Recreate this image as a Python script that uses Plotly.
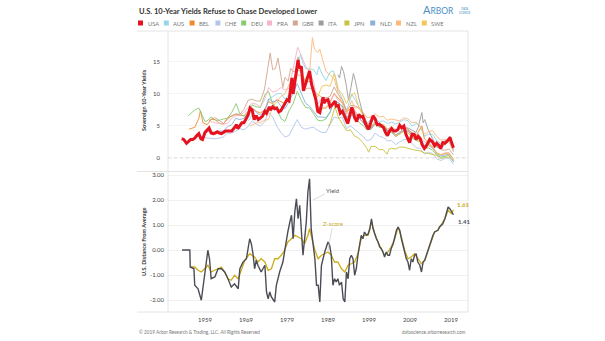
import plotly.graph_objects as go

# ---------------- data (fractional year, value) ----------------
years_ticks = [1959, 1969, 1979, 1989, 1999, 2009, 2019]
tick_labels = ["1959", "1969", "1979", "1989", "1999", "2009", "2019"]

countries = ["USA", "AUS", "BEL", "CHE", "DEU", "FRA", "GBR", "ITA", "JPN", "NLD", "NZL", "SWE"]

usa = [(1953.3, 3.0), (1953.8, 2.9), (1954.5, 2.3), (1955.0, 2.6), (1955.5, 2.9), (1956.0, 2.9),
       (1956.5, 3.1), (1957.0, 3.5), (1957.5, 3.8), (1958.0, 3.0), (1958.4, 2.9), (1959.0, 4.0),
       (1959.5, 4.4), (1960.0, 4.7), (1960.5, 3.9), (1961.0, 3.8), (1961.5, 3.9), (1962.0, 4.1),
       (1962.5, 3.9), (1963.0, 3.8), (1963.5, 4.0), (1964.0, 4.2), (1964.5, 4.2), (1965.0, 4.2),
       (1965.5, 4.2), (1966.0, 4.6), (1966.7, 5.2), (1967.0, 4.6), (1967.5, 5.0), (1968.0, 5.5),
       (1968.5, 5.5), (1969.0, 6.0), (1969.5, 6.7), (1970.0, 7.8), (1970.5, 7.5), (1971.0, 6.0),
       (1971.5, 6.6), (1972.0, 6.0), (1972.5, 6.2), (1973.0, 6.5), (1973.6, 7.3), (1974.0, 7.0),
       (1974.7, 8.0), (1975.0, 7.5), (1975.5, 8.0), (1976.0, 7.7), (1976.5, 7.8), (1977.0, 7.2),
       (1977.5, 7.4), (1978.0, 7.9), (1978.5, 8.5), (1979.0, 9.1), (1979.5, 8.9), (1980.2, 12.5),
       (1980.5, 10.0), (1981.0, 12.5), (1981.7, 15.3), (1982.0, 14.0), (1982.5, 14.3), (1983.0, 10.5),
       (1983.5, 11.5), (1984.5, 13.6), (1985.0, 11.5), (1985.5, 10.4), (1986.0, 9.2), (1986.5, 7.3),
       (1987.0, 7.1), (1987.8, 9.5), (1988.0, 8.6), (1988.5, 9.0), (1989.0, 9.1), (1989.5, 8.0),
       (1990.0, 8.3), (1990.7, 8.9), (1991.0, 8.1), (1991.5, 8.2), (1992.0, 7.0), (1992.5, 7.3),
       (1993.0, 6.6), (1993.8, 5.4), (1994.0, 5.8), (1994.8, 7.9), (1995.0, 7.6), (1995.5, 6.3),
       (1996.0, 5.7), (1996.5, 6.8), (1997.0, 6.4), (1997.5, 6.5), (1998.0, 5.6), (1998.8, 4.5),
       (1999.0, 4.7), (1999.5, 5.8), (2000.0, 6.6), (2000.5, 6.1), (2001.0, 5.2), (2001.5, 5.3),
       (2002.0, 5.0), (2002.5, 4.8), (2003.0, 4.0), (2003.5, 3.5), (2004.0, 4.2), (2004.5, 4.6),
       (2005.0, 4.2), (2005.5, 4.2), (2006.0, 4.4), (2006.5, 5.1), (2007.0, 4.7), (2007.5, 5.0),
       (2008.0, 3.7), (2008.9, 2.4), (2009.5, 3.7), (2010.0, 3.7), (2010.5, 2.9), (2011.0, 3.4),
       (2011.5, 3.0), (2012.0, 2.0), (2012.5, 1.5), (2013.0, 1.9), (2013.8, 2.9), (2014.0, 2.8),
       (2014.5, 2.5), (2015.0, 1.9), (2015.5, 2.3), (2016.0, 2.0), (2016.5, 1.5), (2017.0, 2.4),
       (2017.5, 2.3), (2018.0, 2.6), (2018.8, 3.2), (2019.0, 2.7), (2019.6, 1.6)]

aus = [(1969.5, 5.8), (1970.5, 6.7), (1971.5, 6.6), (1972.5, 5.9), (1973.5, 7.0), (1974.5, 9.2),
       (1975.5, 9.6), (1976.5, 10.0), (1977.5, 10.1), (1978.5, 9.2), (1979.5, 9.9), (1980.5, 11.7),
       (1981.5, 13.9), (1982.3, 16.2), (1982.8, 15.0), (1983.5, 14.0), (1984.5, 13.9), (1985.5, 13.8),
       (1986.3, 13.0), (1986.8, 14.3), (1987.5, 13.2), (1988.5, 12.1), (1989.5, 13.4), (1990.3, 13.6),
       (1990.8, 12.8), (1991.5, 10.7), (1992.5, 9.2), (1993.5, 7.3), (1994.8, 10.0), (1995.5, 9.2),
       (1996.5, 8.2), (1997.5, 6.9), (1998.5, 5.5), (1999.5, 6.0), (2000.5, 6.3), (2001.5, 5.6),
       (2002.5, 5.8), (2003.5, 5.4), (2004.5, 5.6), (2005.5, 5.3), (2006.5, 5.6), (2007.5, 6.0),
       (2008.5, 5.8), (2009.5, 5.0), (2010.5, 5.4), (2011.5, 4.9), (2012.5, 3.4), (2013.5, 3.7),
       (2014.5, 3.7), (2015.5, 2.7), (2016.5, 2.3), (2017.5, 2.7), (2018.5, 2.7), (2019.6, 1.0)]

bel = [(1955.1, 4.5), (1955.5, 4.6), (1956.5, 4.8), (1957.5, 6.2), (1957.9, 7.4), (1958.5, 5.5),
       (1959.5, 5.2), (1960.5, 6.0), (1961.5, 6.0), (1962.5, 5.4), (1963.5, 5.3), (1964.5, 6.3),
       (1965.5, 6.5), (1966.5, 6.8), (1967.5, 6.7), (1968.5, 6.6), (1969.5, 7.3), (1970.5, 7.8),
       (1971.5, 7.3), (1972.5, 7.0), (1973.5, 7.5), (1974.5, 8.8), (1975.5, 8.5), (1976.5, 9.1),
       (1977.5, 8.8), (1978.5, 8.5), (1979.5, 9.7), (1980.5, 12.2), (1981.5, 13.8), (1982.5, 13.5),
       (1983.5, 11.8), (1984.5, 12.0), (1985.5, 10.6), (1986.5, 7.9), (1987.5, 7.8), (1988.5, 7.8),
       (1989.5, 8.6), (1990.5, 10.1), (1991.5, 9.3), (1992.5, 8.7), (1993.5, 7.2), (1994.5, 7.7),
       (1995.5, 7.4), (1996.5, 6.3), (1997.5, 5.6), (1998.5, 4.7), (1999.5, 4.8), (2000.5, 5.6),
       (2001.5, 5.1), (2002.5, 5.0), (2003.5, 4.2), (2004.5, 4.2), (2005.5, 3.4), (2006.5, 3.8),
       (2007.5, 4.3), (2008.5, 4.4), (2009.5, 3.9), (2010.5, 3.5), (2011.9, 5.0), (2012.5, 3.0),
       (2013.5, 2.4), (2014.5, 1.7), (2015.5, 0.8), (2016.5, 0.5), (2017.5, 0.7), (2018.5, 0.8),
       (2019.6, -0.2)]

che = [(1956.5, 3.0), (1957.5, 3.6), (1958.5, 3.2), (1959.5, 3.1), (1960.5, 3.1), (1961.5, 3.0),
       (1962.5, 3.1), (1963.5, 3.3), (1964.5, 3.9), (1965.5, 3.9), (1966.5, 4.2), (1967.5, 4.6),
       (1968.5, 4.4), (1969.5, 4.9), (1970.5, 5.8), (1971.5, 5.3), (1972.5, 5.0), (1973.5, 5.6),
       (1974.5, 7.1), (1975.5, 6.4), (1976.5, 5.0), (1977.5, 4.0), (1978.5, 3.3), (1979.5, 3.5),
       (1980.5, 4.8), (1981.5, 6.0), (1982.5, 4.8), (1983.5, 4.5), (1984.5, 4.7), (1985.5, 4.8),
       (1986.5, 4.3), (1987.5, 4.0), (1988.5, 4.0), (1989.5, 5.2), (1990.5, 6.4), (1991.5, 6.2),
       (1992.5, 6.4), (1993.5, 4.6), (1994.5, 5.0), (1995.5, 4.5), (1996.5, 4.0), (1997.5, 3.4),
       (1998.5, 2.7), (1999.5, 2.9), (2000.5, 3.9), (2001.5, 3.4), (2002.5, 3.2), (2003.5, 2.7),
       (2004.5, 2.7), (2005.5, 2.1), (2006.5, 2.5), (2007.5, 2.9), (2008.5, 2.9), (2009.5, 2.2),
       (2010.5, 1.6), (2011.5, 1.5), (2012.5, 0.6), (2013.5, 0.9), (2014.5, 0.7), (2015.5, -0.1),
       (2016.5, -0.4), (2017.5, -0.1), (2018.5, 0.0), (2019.6, -1.0)]

deu = [(1954.9, 6.6), (1955.5, 7.0), (1956.5, 7.5), (1957.5, 7.8), (1958.3, 6.6), (1959.0, 5.7),
       (1959.5, 5.8), (1960.5, 6.4), (1961.5, 5.9), (1962.5, 5.9), (1963.5, 6.1), (1964.5, 6.2),
       (1965.5, 7.1), (1966.6, 8.5), (1967.5, 6.9), (1968.5, 6.5), (1969.5, 7.0), (1970.5, 8.3),
       (1971.5, 8.0), (1972.5, 7.9), (1973.7, 10.0), (1974.5, 10.4), (1975.5, 8.5), (1976.5, 7.8),
       (1977.5, 6.2), (1978.5, 5.7), (1979.5, 7.4), (1980.5, 8.5), (1981.5, 10.4), (1982.5, 9.0),
       (1983.5, 7.9), (1984.5, 7.8), (1985.5, 6.9), (1986.5, 5.9), (1987.5, 5.8), (1988.5, 6.1),
       (1989.5, 7.1), (1990.5, 8.9), (1991.5, 8.6), (1992.5, 8.0), (1993.5, 6.3), (1994.5, 6.7),
       (1995.5, 6.5), (1996.5, 5.6), (1997.5, 5.1), (1998.5, 4.4), (1999.5, 4.5), (2000.5, 5.3),
       (2001.5, 4.8), (2002.5, 4.8), (2003.5, 4.1), (2004.5, 4.0), (2005.5, 3.4), (2006.5, 3.8),
       (2007.5, 4.2), (2008.5, 4.0), (2009.5, 3.2), (2010.5, 2.7), (2011.5, 2.6), (2012.5, 1.5),
       (2013.5, 1.6), (2014.5, 1.2), (2015.5, 0.5), (2016.5, 0.1), (2017.5, 0.3), (2018.5, 0.4),
       (2019.6, -0.6)]

fra = [(1960.0, 5.9), (1960.5, 5.7), (1961.5, 5.5), (1962.5, 5.4), (1963.5, 5.3), (1964.5, 5.4),
       (1965.5, 6.2), (1966.5, 6.6), (1967.5, 6.7), (1968.5, 7.1), (1969.5, 7.9), (1970.5, 8.6),
       (1971.5, 8.4), (1972.5, 8.0), (1973.5, 9.0), (1974.5, 11.0), (1975.5, 10.3), (1976.5, 10.5),
       (1977.5, 11.0), (1978.5, 10.6), (1979.5, 10.9), (1980.5, 13.8), (1981.6, 17.3), (1982.5, 16.0),
       (1983.5, 14.4), (1984.5, 13.4), (1985.5, 11.9), (1986.5, 8.4), (1987.5, 9.4), (1988.5, 9.1),
       (1989.5, 8.8), (1990.5, 10.0), (1991.5, 9.0), (1992.5, 8.6), (1993.5, 6.8), (1994.5, 7.2),
       (1995.5, 7.5), (1996.5, 6.3), (1997.5, 5.6), (1998.5, 4.6), (1999.5, 4.6), (2000.5, 5.4),
       (2001.5, 4.9), (2002.5, 4.9), (2003.5, 4.1), (2004.5, 4.1), (2005.5, 3.4), (2006.5, 3.8),
       (2007.5, 4.3), (2008.5, 4.2), (2009.5, 3.6), (2010.5, 3.1), (2011.5, 3.3), (2012.5, 2.5),
       (2013.5, 2.2), (2014.5, 1.7), (2015.5, 0.8), (2016.5, 0.5), (2017.5, 0.8), (2018.5, 0.8),
       (2019.6, -0.4)]

gbr = [(1960.0, 5.8), (1960.5, 6.1), (1961.5, 6.3), (1962.5, 5.9), (1963.5, 5.4), (1964.5, 6.0),
       (1965.5, 6.6), (1966.5, 6.9), (1967.5, 6.8), (1968.5, 7.6), (1969.5, 9.0), (1970.5, 9.2),
       (1971.5, 8.9), (1972.5, 8.9), (1973.5, 10.7), (1974.3, 14.0), (1974.9, 16.4), (1975.5, 13.8),
       (1976.2, 14.0), (1976.8, 15.6), (1977.5, 12.5), (1978.0, 11.0), (1978.5, 12.6), (1979.3, 12.0),
       (1979.9, 14.0), (1980.5, 13.5), (1981.0, 13.5), (1981.7, 15.8), (1982.5, 13.0), (1983.3, 10.5),
       (1983.8, 10.9), (1984.5, 10.9), (1985.5, 10.6), (1986.5, 9.9), (1987.5, 9.5), (1988.5, 9.4),
       (1989.5, 9.6), (1990.5, 11.1), (1991.5, 9.9), (1992.5, 9.1), (1993.5, 7.5), (1994.5, 8.2),
       (1995.5, 8.2), (1996.5, 7.8), (1997.5, 7.0), (1998.5, 5.5), (1999.5, 5.1), (2000.5, 5.3),
       (2001.5, 4.9), (2002.5, 4.9), (2003.5, 4.5), (2004.5, 4.9), (2005.5, 4.4), (2006.5, 4.5),
       (2007.5, 5.0), (2008.5, 4.6), (2009.5, 3.6), (2010.5, 3.6), (2011.5, 3.1), (2012.5, 1.9),
       (2013.5, 2.4), (2014.5, 2.6), (2015.5, 1.9), (2016.5, 1.3), (2017.5, 1.2), (2018.5, 1.4),
       (2019.6, 0.5)]

ita = [(1991.4, 13.0), (1991.8, 12.5), (1992.3, 14.3), (1992.8, 13.5), (1993.5, 11.2), (1994.0, 9.0),
       (1994.6, 11.0), (1995.2, 13.2), (1995.7, 12.0), (1996.5, 9.4), (1997.5, 6.9), (1998.5, 4.9),
       (1999.5, 4.7), (2000.5, 5.6), (2001.5, 5.2), (2002.5, 5.0), (2003.5, 4.3), (2004.5, 4.3),
       (2005.5, 3.6), (2006.5, 4.1), (2007.5, 4.5), (2008.5, 4.7), (2009.5, 4.3), (2010.5, 4.0),
       (2011.0, 4.8), (2011.9, 7.1), (2012.2, 5.5), (2012.6, 6.0), (2013.5, 4.3), (2014.5, 2.9),
       (2015.5, 1.7), (2016.5, 1.5), (2017.5, 2.1), (2018.8, 3.4), (2019.6, 1.3)]

jpn = [(1989.0, 5.0), (1989.5, 5.3), (1990.7, 8.0), (1991.5, 6.4), (1992.5, 5.3), (1993.5, 4.3),
       (1994.5, 4.4), (1995.5, 3.4), (1996.5, 3.1), (1997.5, 2.4), (1998.5, 1.5), (1998.9, 0.9),
       (1999.5, 1.8), (2000.5, 1.8), (2001.5, 1.3), (2002.5, 1.3), (2003.4, 0.6), (2003.9, 1.4),
       (2004.5, 1.5), (2005.5, 1.4), (2006.5, 1.7), (2007.5, 1.7), (2008.5, 1.5), (2009.5, 1.3),
       (2010.5, 1.2), (2011.5, 1.1), (2012.5, 0.8), (2013.5, 0.7), (2014.5, 0.5), (2015.5, 0.4),
       (2016.5, -0.1), (2017.5, 0.1), (2018.5, 0.1), (2019.6, -0.2)]

nld = [(1959.0, 4.0), (1959.5, 4.1), (1960.5, 4.2), (1961.5, 3.9), (1962.5, 4.2), (1963.5, 4.2),
       (1964.5, 4.9), (1965.5, 5.2), (1966.5, 6.2), (1967.5, 6.0), (1968.5, 6.2), (1969.5, 7.0),
       (1970.5, 7.8), (1971.5, 7.1), (1972.5, 6.7), (1973.5, 7.3), (1974.5, 9.2), (1975.5, 8.8),
       (1976.5, 9.0), (1977.5, 8.1), (1978.5, 7.7), (1979.5, 8.8), (1980.5, 10.2), (1981.5, 11.6),
       (1982.5, 10.1), (1983.5, 8.6), (1984.5, 8.1), (1985.5, 7.3), (1986.5, 6.4), (1987.5, 6.4),
       (1988.5, 6.3), (1989.5, 7.2), (1990.5, 8.9), (1991.5, 8.7), (1992.5, 8.1), (1993.5, 6.4),
       (1994.5, 6.9), (1995.5, 6.9), (1996.5, 6.2), (1997.5, 5.6), (1998.5, 4.6), (1999.5, 4.6),
       (2000.5, 5.4), (2001.5, 5.0), (2002.5, 4.9), (2003.5, 4.1), (2004.5, 4.1), (2005.5, 3.4),
       (2006.5, 3.8), (2007.5, 4.3), (2008.5, 4.2), (2009.5, 3.7), (2010.5, 3.0), (2011.5, 3.0),
       (2012.5, 1.9), (2013.5, 2.0), (2014.5, 1.5), (2015.5, 0.7), (2016.5, 0.3), (2017.5, 0.5),
       (2018.5, 0.6), (2019.6, -0.5)]

nzl = [(1970.0, 5.0), (1971.5, 5.5), (1972.5, 5.5), (1973.5, 5.9), (1974.5, 6.0), (1975.5, 8.0),
       (1976.5, 8.8), (1977.5, 9.6), (1978.5, 10.0), (1979.5, 11.5), (1980.5, 12.5), (1981.5, 13.0),
       (1982.5, 12.8), (1983.5, 12.3), (1984.5, 13.5), (1985.2, 18.8), (1985.7, 17.0), (1986.5, 16.5),
       (1987.0, 17.0), (1987.8, 15.0), (1988.5, 13.5), (1989.5, 13.0), (1990.5, 12.4), (1991.5, 10.1),
       (1992.5, 8.4), (1993.5, 6.9), (1994.8, 9.0), (1995.5, 7.8), (1996.5, 7.9), (1997.5, 7.2),
       (1998.5, 6.3), (1999.5, 6.4), (2000.5, 6.9), (2001.5, 6.4), (2002.5, 6.5), (2003.5, 5.9),
       (2004.5, 6.1), (2005.5, 5.9), (2006.5, 5.8), (2007.5, 6.3), (2008.5, 6.1), (2009.5, 5.5),
       (2010.5, 5.6), (2011.5, 4.9), (2012.5, 3.7), (2013.5, 4.1), (2014.5, 4.3), (2015.5, 3.4),
       (2016.5, 2.8), (2017.5, 2.9), (2018.5, 2.6), (2019.6, 1.0)]

swe = [(1986.0, 10.0), (1986.5, 9.5), (1987.5, 11.2), (1988.5, 11.4), (1989.5, 11.2), (1990.5, 13.2),
       (1991.5, 10.7), (1992.5, 10.0), (1993.5, 8.5), (1994.5, 9.7), (1995.5, 10.2), (1996.5, 8.0),
       (1997.5, 6.6), (1998.5, 5.0), (1999.5, 5.0), (2000.5, 5.4), (2001.5, 5.1), (2002.5, 5.3),
       (2003.5, 4.6), (2004.5, 4.4), (2005.5, 3.4), (2006.5, 3.7), (2007.5, 4.2), (2008.5, 3.9),
       (2009.5, 3.3), (2010.5, 2.9), (2011.5, 2.6), (2012.5, 1.6), (2013.5, 2.1), (2014.5, 1.7),
       (2015.5, 0.7), (2016.5, 0.5), (2017.5, 0.7), (2018.5, 0.6), (2019.6, -0.35)]

# US distance from developed average (yield spread) and z-score
spread = [(1953.4, 0.00), (1955.3, 0.00), (1955.4, -0.68), (1956.3, -0.75), (1956.5, -1.41),
          (1957.3, -1.55), (1958.1, -2.01), (1958.9, -0.88), (1959.7, -0.01), (1960.1, -0.35),
          (1960.5, -1.15), (1961.4, -1.08), (1962.2, -0.75), (1963.0, -0.75), (1963.8, -0.88),
          (1964.6, -1.15), (1965.4, -1.48), (1966.2, -1.35), (1967.1, -1.55), (1967.5, -0.75),
          (1968.3, -0.48), (1969.1, -0.35), (1969.9, 0.45), (1970.3, 0.25), (1970.7, -0.15),
          (1971.1, -0.75), (1971.5, -0.41), (1971.9, -0.61), (1972.7, -0.88), (1973.6, -0.61),
          (1974.0, -1.68), (1974.4, -1.95), (1974.8, -1.68), (1975.2, -1.88), (1976.0, -2.08),
          (1976.4, -1.41), (1977.2, -0.88), (1978.0, -0.48), (1978.4, -0.01), (1978.8, 0.32),
          (1979.2, 0.72), (1979.7, 1.12), (1980.1, 1.39), (1980.5, 0.45), (1980.9, 1.52),
          (1981.3, 2.05), (1981.7, 1.25), (1982.1, 1.79), (1982.5, 0.85), (1982.9, -0.21),
          (1983.3, 0.45), (1983.7, 1.12), (1984.1, 2.32), (1984.5, 2.85), (1984.9, 0.85),
          (1985.8, -0.35), (1986.2, -1.41), (1986.6, -1.41), (1987.0, -2.08), (1987.4, -0.61),
          (1987.8, -0.35), (1988.2, -0.08), (1989.0, 0.32), (1989.4, 0.19), (1989.8, -0.21),
          (1990.2, -1.41), (1990.6, -1.15), (1991.0, -1.28), (1991.4, -1.15), (1991.8, -1.41),
          (1992.3, -1.28), (1992.7, -1.95), (1993.1, -2.08), (1993.5, -0.88), (1993.9, -1.15),
          (1994.3, -0.35), (1994.7, -0.21), (1995.1, -0.35), (1995.5, -1.01), (1995.9, -0.75),
          (1996.3, -0.21), (1996.7, 0.19), (1997.1, 0.59), (1997.5, 0.45), (1997.9, 0.72),
          (1998.4, 0.59), (1998.8, 0.65), (1999.2, 0.85), (1999.6, 1.25), (2000.0, 0.85),
          (2000.4, 0.59), (2000.8, 0.45), (2001.2, 0.32), (2001.6, 0.12), (2002.0, 0.05),
          (2002.4, -0.08), (2002.8, -0.28), (2003.2, -0.08), (2003.6, -0.21), (2004.0, -0.21),
          (2004.4, 0.05), (2004.9, 0.25), (2005.3, 0.52), (2005.7, 0.79), (2006.1, 0.92),
          (2006.5, 0.79), (2006.9, 0.45), (2007.3, 0.19), (2007.7, -0.08), (2008.1, -0.35),
          (2008.5, -0.48), (2008.9, -0.81), (2009.3, -0.35), (2009.7, -0.48), (2010.1, -0.21),
          (2010.5, -0.15), (2010.9, -0.48), (2011.4, -0.61), (2011.8, -0.88), (2012.2, -0.48),
          (2012.6, -0.41), (2013.0, -0.21), (2013.4, -0.01), (2013.8, 0.19), (2014.2, 0.45),
          (2014.6, 0.59), (2015.0, 0.72), (2015.8, 0.79), (2016.2, 0.92), (2016.6, 0.99),
          (2017.0, 1.05), (2017.5, 1.25), (2017.9, 1.52), (2018.3, 1.72), (2018.7, 1.65),
          (2019.1, 1.52), (2019.5, 1.45), (2019.6, 1.41)]

zscore = [(1955.3, -0.68), (1956.5, -0.68), (1957.3, -0.81), (1958.1, -0.88), (1958.9, -0.75),
          (1959.7, -0.61), (1960.5, -0.88), (1961.4, -0.81), (1962.2, -0.75), (1963.0, -0.68),
          (1963.8, -0.88), (1964.6, -1.15), (1965.4, -1.21), (1966.2, -1.01), (1967.1, -1.15),
          (1967.9, -0.75), (1968.7, -0.41), (1969.9, -0.15), (1971.1, -0.28), (1971.9, -0.48),
          (1972.7, -0.35), (1973.6, -0.48), (1974.4, -0.81), (1975.2, -0.75), (1976.0, -0.35),
          (1976.8, -0.35), (1977.6, -0.21), (1978.4, -0.01), (1979.2, 0.32), (1980.1, 0.45),
          (1980.9, 0.59), (1981.7, 0.52), (1982.5, 0.45), (1983.3, 0.25), (1984.1, 0.59),
          (1984.5, 0.85), (1984.9, 0.59), (1985.8, -0.01), (1986.6, -0.35), (1987.4, -0.21),
          (1988.2, -0.15), (1989.0, -0.08), (1989.8, -0.21), (1990.6, -0.48), (1991.4, -0.48),
          (1992.3, -0.75), (1993.1, -0.88), (1993.9, -0.61), (1994.7, -0.55), (1995.5, -0.48),
          (1996.3, -0.15), (1997.1, 0.45), (1997.9, 0.59), (1998.8, 0.59), (1999.6, 1.12),
          (2000.4, 0.65), (2001.2, 0.32), (2002.0, 0.05), (2002.8, -0.21), (2003.6, -0.08),
          (2004.4, 0.12), (2005.3, 0.45), (2006.1, 0.92), (2006.9, 0.52), (2007.7, -0.01),
          (2008.5, -0.35), (2009.3, -0.28), (2010.1, -0.15), (2010.9, -0.35), (2011.8, -0.55),
          (2012.6, -0.41), (2013.4, -0.01), (2014.2, 0.39), (2015.0, 0.72), (2015.8, 0.79),
          (2016.6, 0.99), (2017.5, 1.25), (2018.3, 1.59), (2019.1, 1.45), (2019.6, 1.61)]

series = {"AUS": aus, "BEL": bel, "CHE": che, "DEU": deu, "FRA": fra, "GBR": gbr, "ITA": ita,
          "JPN": jpn, "NLD": nld, "NZL": nzl, "SWE": swe, "USA": usa}

colors = {"USA": "#e5131f", "AUS": "#93d6ea", "BEL": "#f28a2c", "CHE": "#b3c6ea", "DEU": "#86cc6f",
          "FRA": "#f7b5c9", "GBR": "#d3a68f", "ITA": "#9d9d9d", "JPN": "#c9c43c", "NLD": "#8eb1da",
          "NZL": "#fdba7b", "SWE": "#f3c658"}

# ---------------- geometry helpers (pixel -> paper) ----------------
W, H = 605, 341
PL, PR, PT, PB = 168, 468, 31, 312


def fx(px):
    return (px - PL) / (PR - PL)


def fy(py):
    return (PB - py) / (PB - PT)


FONT = "Lato"
fig = go.Figure()

for name in ["AUS", "BEL", "CHE", "DEU", "FRA", "GBR", "ITA", "JPN", "NLD", "NZL", "SWE", "USA"]:
    pts = series[name]
    fig.add_trace(go.Scatter(
        x=[p[0] for p in pts], y=[p[1] for p in pts], mode="lines", name=name,
        line=dict(color=colors[name], width=3.0 if name == "USA" else 1.0),
        opacity=1.0 if name == "USA" else 0.9,
        xaxis="x2", yaxis="y2", showlegend=False))

fig.add_trace(go.Scatter(x=[p[0] for p in zscore], y=[p[1] for p in zscore], mode="lines",
                         line=dict(color="#cdac1c", width=1.3), xaxis="x", yaxis="y",
                         showlegend=False, name="Z-score"))
fig.add_trace(go.Scatter(x=[p[0] for p in spread], y=[p[1] for p in spread], mode="lines",
                         line=dict(color="#4b4d55", width=1.4), xaxis="x", yaxis="y",
                         showlegend=False, name="Yield"))

XR = [1959 + (PL - 205) / 4.1, 1959 + (PR - 205) / 4.1]
tickfont = dict(family=FONT, size=6, color="#444444")

shapes = []
lc = "#e4e4e4"
for yy in [PT, 171.5, PB]:
    shapes.append(dict(type="line", xref="paper", yref="paper", x0=fx(137), x1=1,
                       y0=fy(yy), y1=fy(yy), line=dict(color=lc, width=1)))
for xx in [PL, PR]:
    shapes.append(dict(type="line", xref="paper", yref="paper", x0=fx(xx), x1=fx(xx),
                       y0=0, y1=1, line=dict(color=lc, width=1)))
shapes.append(dict(type="line", xref="paper", yref="y2", x0=0, x1=1, y0=0, y1=0,
                   line=dict(color="#d8d8d8", width=0.8, dash="dot")))

annotations = [
    dict(text="<b>U.S. 10-Year Yields Refuse to Chase Developed Lower</b>", xref="paper", yref="paper",
         x=fx(137), y=fy(11), xanchor="left", yanchor="middle", showarrow=False,
         font=dict(family=FONT, size=7.5, color="#333333")),
    dict(text="<span style='font-size:11px'>A</span>RBOR", xref="paper", yref="paper",
         x=fx(456), y=fy(10), xanchor="right", yanchor="middle", showarrow=False,
         font=dict(family=FONT, size=8.5, color="#4d90c6")),
    dict(text="DATA<br>SCIENCE", xref="paper", yref="paper",
         x=fx(457), y=fy(11), xanchor="left", yanchor="middle", showarrow=False,
         font=dict(family=FONT, size=2.8, color="#4d90c6")),
    dict(text="<b>Sovereign 10-Year Yields</b>", xref="paper", yref="paper", textangle=-90,
         x=fx(143), y=fy(100), xanchor="center", yanchor="middle", showarrow=False,
         font=dict(family=FONT, size=5.6, color="#333333")),
    dict(text="<b>U.S. Distance From Average</b>", xref="paper", yref="paper", textangle=-90,
         x=fx(143), y=fy(242), xanchor="center", yanchor="middle", showarrow=False,
         font=dict(family=FONT, size=5.6, color="#333333")),
    dict(text="\u00a9 2019 Arbor Research & Trading, LLC. All Rights Reserved", xref="paper",
         yref="paper", x=fx(137), y=fy(332), xanchor="left", yanchor="middle", showarrow=False,
         font=dict(family=FONT, size=4.7, color="#777777")),
    dict(text="datascience.arborresearch.com", xref="paper", yref="paper", x=1, y=fy(332),
         xanchor="right", yanchor="middle", showarrow=False,
         font=dict(family=FONT, size=4.7, color="#777777")),
    dict(text="Yield", xref="x", yref="y", x=1985.3, y=2.0, ax=20, ay=-10, showarrow=True,
         arrowhead=0, arrowwidth=0.7, arrowcolor="#cccccc", standoff=0,
         font=dict(family=FONT, size=6, color="#555555")),
    dict(text="Z-score", xref="x", yref="y", x=1989.0, y=0.0, ax=5, ay=-27, showarrow=True,
         arrowhead=0, arrowwidth=0.7, arrowcolor="#cccccc", standoff=0,
         font=dict(family=FONT, size=6, color="#c9a71a")),
    dict(text="<b>%.2f</b>" % zscore[-1][1], xref="paper", yref="paper", x=fx(455), y=fy(204),
         xanchor="left", yanchor="middle", showarrow=False,
         font=dict(family=FONT, size=6, color="#c9a71a")),
    dict(text="<b>%.2f</b>" % spread[-1][1], xref="paper", yref="paper", x=fx(456), y=fy(222),
         xanchor="left", yanchor="middle", showarrow=False,
         font=dict(family=FONT, size=6, color="#4b4d55")),
]

# manual legend
for i, name in enumerate(countries):
    x0 = 138 + i * 25.8
    shapes.append(dict(type="rect", xref="paper", yref="paper", x0=fx(x0), x1=fx(x0 + 5),
                       y0=fy(25.5), y1=fy(20.5), fillcolor=colors[name], line=dict(width=0)))
    annotations.append(dict(text=name, xref="paper", yref="paper", x=fx(x0 + 7.5), y=fy(23.2),
                            xanchor="left", yanchor="middle", showarrow=False,
                            font=dict(family=FONT, size=5.8, color="#777777")))

fig.update_layout(
    width=W, height=H, autosize=False,
    margin=dict(l=PL, r=W - PR, t=PT, b=H - PB, pad=0),
    paper_bgcolor="white", plot_bgcolor="white",
    showlegend=False,
    xaxis=dict(domain=[0, 1], anchor="y", range=XR, tickvals=years_ticks, ticktext=tick_labels,
               showgrid=False, zeroline=False, showline=False, ticks="", tickfont=tickfont,
               ticklabelstandoff=3),
    xaxis2=dict(domain=[0, 1], anchor="y2", range=XR, matches="x", showticklabels=False,
                showgrid=False, zeroline=False, showline=False, ticks=""),
    yaxis=dict(domain=[0, 0.5], anchor="x", range=[-2.48, 3.14],
               tickvals=[-2, -1, 0, 1, 2, 3], ticktext=["-2.00", "-1.00", "0.00", "1.00", "2.00", "3.00"],
               showgrid=True, gridcolor="#f1f1f1", gridwidth=1, zeroline=False, showline=False,
               ticks="", tickfont=tickfont, ticklabelstandoff=3),
    yaxis2=dict(domain=[0.5, 1], anchor="x2", range=[-2.11, 19.84], tickvals=[0, 5, 10, 15],
                showgrid=True, gridcolor="#f4f4f4", gridwidth=1, zeroline=False, showline=False,
                ticks="", tickfont=tickfont, ticklabelstandoff=7),
    shapes=shapes, annotations=annotations,
)

fig.write_html("out.html")
